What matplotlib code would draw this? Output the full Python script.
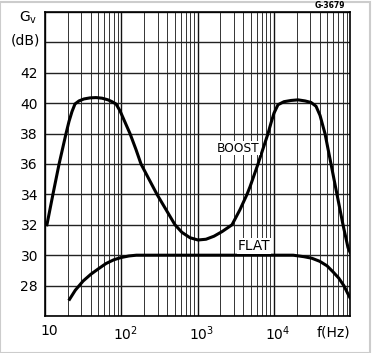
import matplotlib
matplotlib.use('Agg')
import matplotlib.pyplot as plt
import matplotlib.transforms as mtransforms
from matplotlib.ticker import LogLocator, NullFormatter, FixedLocator
from matplotlib.patches import Rectangle

# curve readings (frequency in Hz, gain in dB)
boost_f = [10.6, 12.7, 15.3, 18.86, 20.64, 22.6, 24.74, 27.92, 32.48, 38.92,
           46.66, 55.92, 67.03, 75.62, 85.35, 96.3, 112, 130.3, 156.1, 181.6,
           231.1, 294.4, 386.3, 507, 626.1, 797.2, 1015, 1293, 1646, 2096,
           2835, 3609, 4459, 4882, 6216, 7228, 8407, 9203, 10080, 11370,
           13630, 16840, 20800, 25690, 30800, 35830, 40430, 47000, 56350,
           67520, 80960, 94150, 100000]
boost_db = [32.0, 34.0, 36.0, 38.0, 38.8, 39.45, 39.95, 40.15, 40.28, 40.35,
            40.37, 40.33, 40.22, 40.1, 39.95, 39.5, 38.75, 38.0, 36.95, 36.0,
            35.0, 34.0, 33.0, 32.0, 31.5, 31.15, 31.0, 31.05, 31.25, 31.55,
            32.0, 33.0, 34.0, 34.5, 36.0, 37.0, 38.0, 38.7, 39.35, 39.9,
            40.1, 40.18, 40.22, 40.15, 40.05, 39.8, 39.2, 38.0, 36.0,
            34.0, 32.0, 30.5, 30.2]

flat_f = [21, 25, 31.6, 40, 50, 63, 80, 100, 126, 158, 1000, 18000, 25000,
          31600, 40000, 50000, 60000, 71000, 83000, 93000, 100000]
flat_db = [27.1, 27.7, 28.3, 28.75, 29.1, 29.45, 29.7, 29.85, 29.95, 30.0, 30.0,
           30.0, 29.9, 29.8, 29.6, 29.3, 28.9, 28.5, 28.0, 27.5, 27.2]

y_ticks = [28, 30, 32, 34, 36, 38, 40, 42]
x_ticks = [10, 100, 1000, 10000]
x_labels = ['10', '10$^2$', '10$^3$', '10$^4$']

fig = plt.figure(figsize=(3.72, 3.53), dpi=100)
ax = fig.add_axes([45 / 372, 37 / 353, 305 / 372, 304 / 353])

ax.set_xscale('log')
ax.set_xlim(10, 1e5)
ax.set_ylim(26, 46)

# log paper grid
ax.xaxis.set_major_locator(FixedLocator([10, 100, 1000, 10000, 100000]))
ax.xaxis.set_minor_locator(LogLocator(base=10, subs=range(2, 10)))
ax.xaxis.set_minor_formatter(NullFormatter())
ax.set_xticks(x_ticks)
ax.set_xticklabels(x_labels)
ax.grid(True, which='major', axis='x', color='#111111', lw=1.0)
ax.grid(True, which='minor', axis='x', color='#333333', lw=0.7)
ax.grid(True, which='major', axis='y', color='#222222', lw=1.0)

ax.set_yticks(list(range(26, 47, 2)))
ax.set_yticklabels(['' if v not in y_ticks else str(v) for v in range(26, 47, 2)])
ax.tick_params(which='both', length=0, labelsize=10, pad=5)
ax.tick_params(axis='x', pad=6)

# labels in the original sit a little right of their decade lines
shift = mtransforms.ScaledTranslation(4 / 100, 0, fig.dpi_scale_trans)
for lab in ax.get_xticklabels():
    lab.set_transform(lab.get_transform() + shift)

for s in ax.spines.values():
    s.set_color('black')
    s.set_linewidth(1.2)

ax.plot(boost_f, boost_db, color='black', lw=2.2, solid_joinstyle='round')
ax.plot(flat_f, flat_db, color='black', lw=2.2, solid_joinstyle='round')

ax.text(3400, 37.05, 'BOOST', fontsize=8.8, ha='center', va='center',
        bbox=dict(facecolor='white', edgecolor='none', pad=0.5))
ax.text(5500, 30.6, 'FLAT', fontsize=9.8, ha='center', va='center',
        bbox=dict(facecolor='white', edgecolor='none', pad=0.5))

# axis captions
fig.text(28 / 372, 1 - 18 / 353, 'G$_\\mathregular{v}$', fontsize=10,
         ha='center', va='center')
fig.text(40 / 372, 1 - 40 / 353, '(dB)', fontsize=10, ha='right', va='center')
fig.text(350 / 372, 1 - 332 / 353, 'f(Hz)', fontsize=10, ha='right', va='center')
fig.text(330 / 372, 1 - 5 / 353, 'G-3679', fontsize=5.5, fontweight='bold',
         ha='center', va='center')

fig.patches.append(Rectangle((0, 0), 0.995, 0.995, transform=fig.transFigure,
                             fill=False, edgecolor='#cccccc', lw=1.5))

fig.savefig('out.png', dpi=100)
